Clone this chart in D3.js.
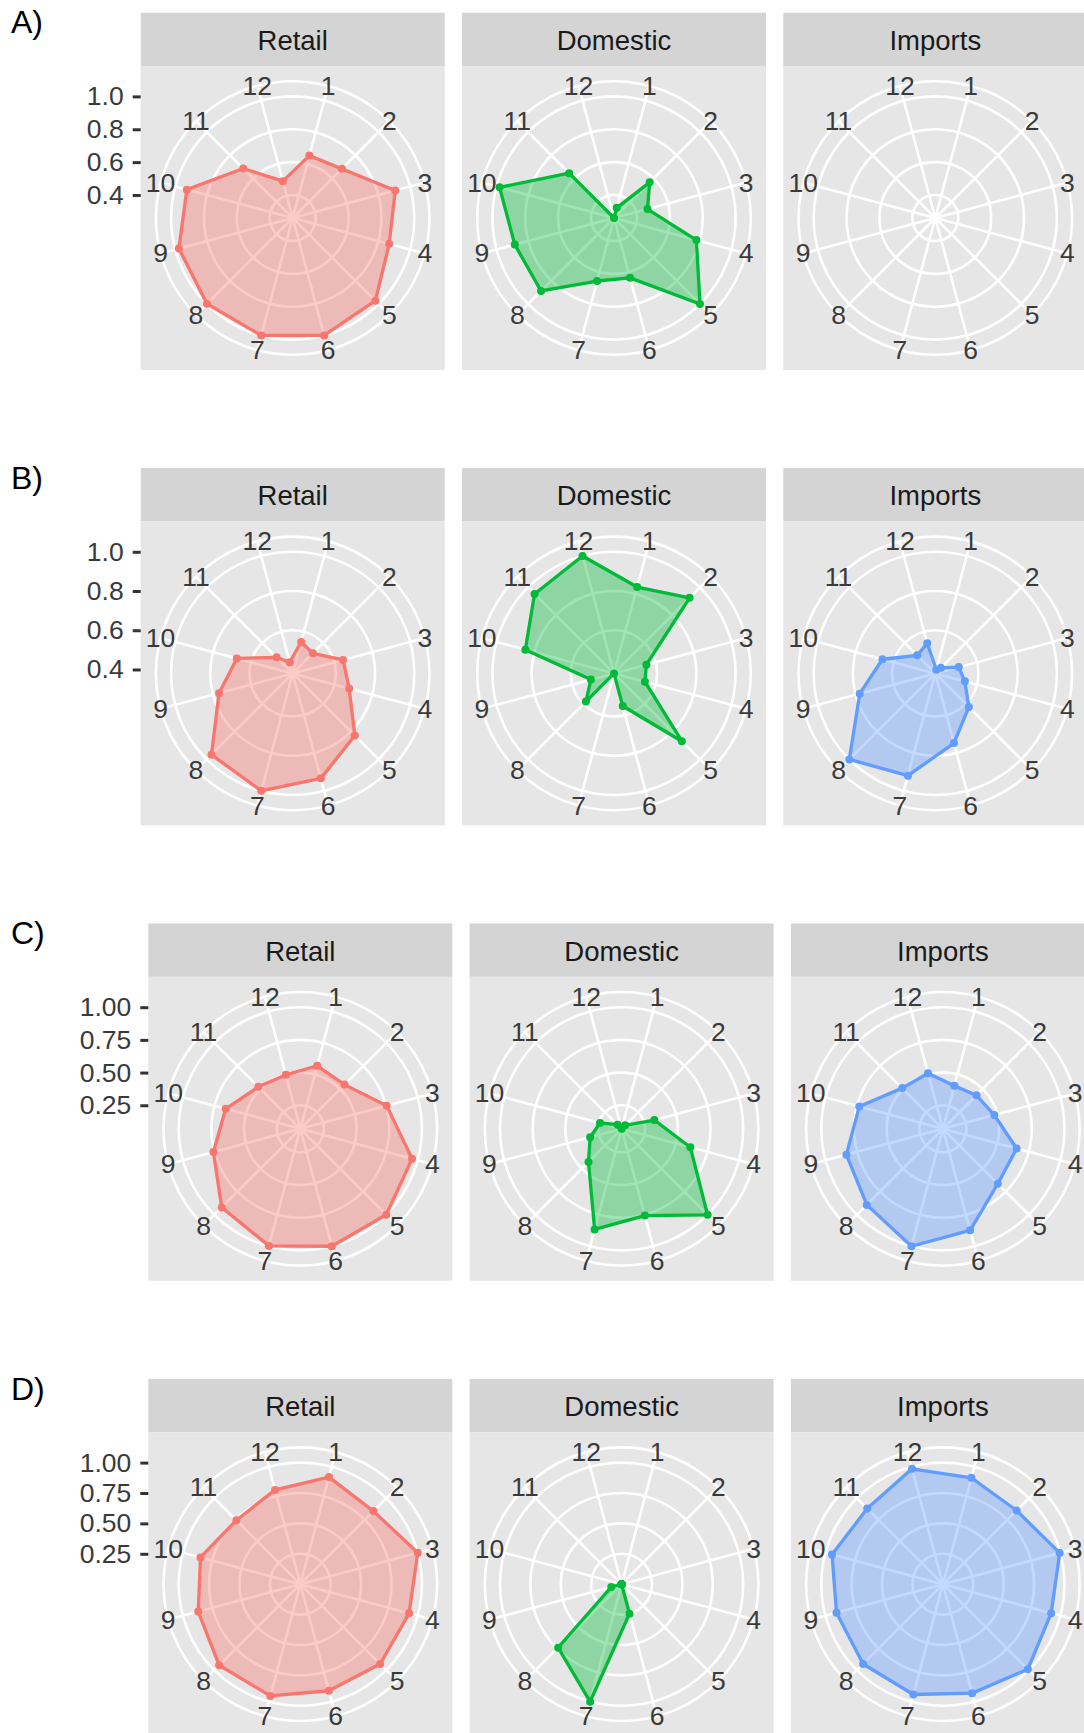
<!DOCTYPE html>
<html>
<head>
<meta charset="utf-8">
<script src="https://cdn.jsdelivr.net/npm/d3@7"></script>
<style>
  body { margin: 0; background: #ffffff; }
  svg { display: block; }
  text { font-family: "Liberation Sans", Arial, Helvetica, sans-serif; }
</style>
</head>
<body>
<div id="chart"></div>
<script>
// ---- data -------------------------------------------------------------
const months = [1, 2, 3, 4, 5, 6, 7, 8, 9, 10, 11, 12];
const monthLabels = ["1", "2", "3", "4", "5", "6", "7", "8", "9", "10", "11", "12"];
const sources = ["Retail", "Domestic", "Imports"];
const rowTags = ["A)", "B)", "C)", "D)"];

// relative monthly values, months 1..12
const retailA   = [0.653, 0.683, 0.906, 0.868, 0.972, 1.000, 1.000, 0.998, 0.977, 0.927, 0.686, 0.492];
const domesticA = [0.324, 0.567, 0.471, 0.779, 1.000, 0.637, 0.657, 0.888, 0.885, 0.981, 0.646, 0.260];
const importsA  = [null, null, null, null, null, null, null, null, null, null, null, null];

const retailB   = [0.546, 0.525, 0.646, 0.678, 0.828, 0.934, 1.000, 0.966, 0.769, 0.675, 0.496, 0.439];
const domesticB = [0.836, 0.925, 0.551, 0.543, 0.869, 0.552, 0.380, 0.583, 0.502, 0.848, 0.953, 1.000];
const importsB  = [0.399, 0.420, 0.504, 0.536, 0.622, 0.748, 0.920, 1.000, 0.779, 0.659, 0.510, 0.539];

const retailC   = [0.569, 0.548, 0.754, 0.955, 1.000, 1.000, 0.997, 0.920, 0.758, 0.661, 0.524, 0.497];
const domesticC = [0.075, 0.108, 0.329, 0.614, 1.000, 0.757, 0.867, 0.428, 0.319, 0.241, 0.114, 0.070];
const importsC  = [0.410, 0.433, 0.477, 0.654, 0.664, 0.874, 1.000, 0.893, 0.834, 0.732, 0.510, 0.510];

const retailD   = [0.912, 0.850, 1.000, 0.926, 0.928, 0.907, 0.951, 0.943, 0.869, 0.850, 0.744, 0.803];
const domesticD = [0.000, 0.000, 0.000, 0.000, 0.000, 0.251, 1.000, 0.738, 0.088, 0.000, 0.000, 0.000];
const importsD  = [0.906, 0.857, 0.994, 0.922, 0.988, 0.928, 0.939, 0.928, 0.906, 0.944, 0.880, 0.982];

const ticksAB = [0.4, 0.6, 0.8, 1.0];
const ticksCD = [0.25, 0.5, 0.75, 1.0];

const sourceColors = ["#F8766D", "#00BA38", "#619CFF"];

// ---- layout -----------------------------------------------------------
const W = 1084, H = 1733;
const rowPitch = 455.4;
const stripTop0 = 12.7;
const stripH = 53.3;
const panelSize = 304;
const panelGap = 17.3;

const rows = [
  { tag: rowTags[0], series: [retailA, domesticA, importsA], ticks: ticksAB, fmt: d3.format(".1f"), left: 140.7 },
  { tag: rowTags[1], series: [retailB, domesticB, importsB], ticks: ticksAB, fmt: d3.format(".1f"), left: 140.7 },
  { tag: rowTags[2], series: [retailC, domesticC, importsC], ticks: ticksCD, fmt: d3.format(".2f"), left: 148.3 },
  { tag: rowTags[3], series: [retailD, domesticD, importsD], ticks: ticksCD, fmt: d3.format(".2f"), left: 148.3 }
];

const svg = d3.select("#chart").append("svg")
  .attr("width", W).attr("height", H)
  .attr("viewBox", `0 0 ${W} ${H}`);

svg.append("rect").attr("width", W).attr("height", H).attr("fill", "#ffffff");

// theta: months spread around the full circle, each label centred in its band
const theta = d3.scaleBand().domain(months).range([0, 2 * Math.PI]);
const angleOf = m => theta(m) + theta.bandwidth() / 2;

const R1 = 0.4 * panelSize;      // radius of the top of the value range
const ROuter = 0.45 * panelSize; // outer ring, spokes end and month labels

const axisFont = 26.5;
const stripFont = 27.5;
const textGrey = "#3A3A3A";

rows.forEach((row, ri) => {
  const stripTop = stripTop0 + ri * rowPitch;
  const panelTop = stripTop + stripH;
  const all = row.series.flat().filter(v => v != null);
  const r = d3.scaleLinear().domain([d3.min(all), d3.max(all)]).range([0, R1]);

  const g = svg.append("g");

  // row tag
  g.append("text")
    .attr("x", 11).attr("y", stripTop + 20.6)
    .attr("font-size", 32).attr("fill", "#000000")
    .text(row.tag);

  sources.forEach((src, si) => {
    const px = row.left + si * (panelSize + panelGap);
    const cx = px + panelSize / 2;
    const cy = panelTop + panelSize / 2;
    const pg = g.append("g");

    // strip
    pg.append("rect")
      .attr("x", px).attr("y", stripTop)
      .attr("width", panelSize).attr("height", stripH)
      .attr("fill", "#D4D4D4");
    pg.append("text")
      .attr("x", cx).attr("y", stripTop + stripH / 2 + 1)
      .attr("text-anchor", "middle").attr("dominant-baseline", "central")
      .attr("font-size", stripFont).attr("fill", "#1A1A1A")
      .text(src);

    // panel background
    pg.append("rect")
      .attr("x", px).attr("y", panelTop)
      .attr("width", panelSize).attr("height", panelSize)
      .attr("fill", "#E6E6E6");

    const c = pg.append("g").attr("transform", `translate(${cx},${cy})`);

    // rings at the breaks plus the outer ring
    const ringR = row.ticks.map(t => r(t)).concat([ROuter]);
    c.selectAll("circle.ring").data(ringR).join("circle")
      .attr("class", "ring")
      .attr("r", d => d)
      .attr("fill", "none").attr("stroke", "#ffffff").attr("stroke-width", 2.6);

    // spokes
    c.selectAll("line.spoke").data(months).join("line")
      .attr("class", "spoke")
      .attr("x1", 0).attr("y1", 0)
      .attr("x2", m => ROuter * Math.sin(angleOf(m)))
      .attr("y2", m => -ROuter * Math.cos(angleOf(m)))
      .attr("stroke", "#ffffff").attr("stroke-width", 2.6);

    // month labels on the outer ring
    c.selectAll("text.month").data(months).join("text")
      .attr("class", "month")
      .attr("x", m => ROuter * Math.sin(angleOf(m)))
      .attr("y", m => -ROuter * Math.cos(angleOf(m)))
      .attr("text-anchor", "middle").attr("dominant-baseline", "central")
      .attr("font-size", axisFont).attr("fill", textGrey)
      .text((m, i) => monthLabels[i]);

    // series polygon, outline and points
    const vals = row.series[si];
    const pts = months.map((m, i) => ({ m, v: vals[i] })).filter(d => d.v != null);
    if (pts.length) {
      const col = sourceColors[si];
      const radial = d3.lineRadial()
        .angle(d => angleOf(d.m))
        .radius(d => r(d.v))
        .curve(d3.curveLinearClosed);
      c.append("path").attr("d", radial(pts))
        .attr("fill", col).attr("fill-opacity", 0.38).attr("stroke", "none");
      c.append("path").attr("d", radial(pts))
        .attr("fill", "none").attr("stroke", col).attr("stroke-width", 3.3)
        .attr("stroke-linejoin", "round");
      c.selectAll("circle.pt").data(pts).join("circle")
        .attr("class", "pt")
        .attr("cx", d => r(d.v) * Math.sin(angleOf(d.m)))
        .attr("cy", d => -r(d.v) * Math.cos(angleOf(d.m)))
        .attr("r", 4)
        .attr("fill", col);
    }

    // radial axis, only on the first panel of each row
    if (si === 0) {
      const y = d3.scaleLinear().domain(r.domain()).range([cy, cy - R1]);
      const ax = g.append("g")
        .attr("transform", `translate(${px},0)`)
        .call(d3.axisLeft(y).tickValues(row.ticks).tickFormat(row.fmt).tickSize(8).tickPadding(9));
      ax.select(".domain").remove();
      ax.selectAll(".tick line").attr("stroke", "#333333").attr("stroke-width", 3);
      ax.selectAll(".tick text")
        .attr("font-size", axisFont).attr("fill", textGrey)
        .attr("font-family", "Liberation Sans, Arial, sans-serif");
    }
  });
});
</script>
</body>
</html>
